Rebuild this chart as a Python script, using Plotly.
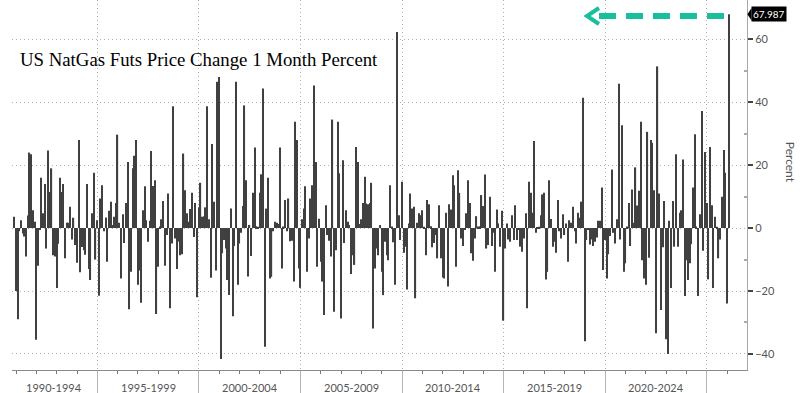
import pandas as pd
import plotly.graph_objects as go

# Monthly % change (month-end dates)
v1990 = [3.6, -20.0]
v1991 = [-29, -1, 2.5, -1.7, -2.7, -9, 4, 24, 23.5, 5.7, 2, -35.5]
v1992 = [-12, -0.6, 16, 4.7, 14, -6.5, 24.7, 11.5, 19, -8.6, -9, -19]
v1993 = [-5, 16, 11.5, 14, -9.6, 1.7, 1.7, 6.8, -3.6, 3.3, -5.4, -11]
v1994 = [28, -14, -6, -7, -8.5, 14, -13, -16.5, 4.7, 17.6, -10, 2.5]
v1995 = [-21.5, 9.4, 13.6, -1, 3.4, -10.7, 5.5, 8.4, 1, 3.6, 8, 29.7]
v1996 = [1.7, -16, 4.4, -4.7, 8, 21, -25.8, -13.9, 19, 23, 28, -18]
v1997 = [-13.5, -23.7, 5.7, 13.3, 2.5, -4.3, 2.3, 24.5, 13.4, 15.2, -27.3, -12.3]
v1998 = [0.5, 2.8, 8.6, -12, -2.2, 11, -25.5, -4.9, 38.7, -3.3, -13, -4.3]
v1999 = [-8.6, -8.3, 23.7, 12, 4.7, 2, 6.1, 11.2, -2.8, 8, -22, 6.6]
v2000 = [14.4, 3.6, 3.8, 6.6, 38.7, 2.8, -15.8, 26.7, 8.4, -13.5, 46.5, 48]
v2001 = [-41.6, -8, -3.8, -6.5, -16.5, -21.3, 6.2, -28, -5.7, 46.5, -18, -4.9]
v2002 = [-1.5, 7, 39, 15.2, -15.4, 1, -8.9, 11.2, 25.6, 0.6, 0.4, 11.2]
v2003 = [17.1, 44.4, -37.7, 6.2, 16, -16, -15.5, -1, 2, 1.7, 1.3, 25.6]
v2004 = [-12.8, 0.5, 8.9, -1, 9.4, -4.2, -4, -17, 33.8, 28, -12.8, -19]
v2005 = [2.8, 6.2, 13.3, -13.9, -3.3, 9.4, 13.6, 45.3, 21, -12.3, 3, -10.7]
v2006 = [-17, -27.6, 7.3, -2.2, -4, -9, 34.5, -26.6, -7, 33.8, 17.4, -28.7]
v2007 = [21.6, -4.7, 5.7, 2, 1, -14.6, -8.6, -11.7, 25.8, 21, 1.3, 2.8]
v2008 = [8, 16.3, 7.8, 7.6, 8, 14.4, -31.9, -12.8, -6.5, -8.6, 1, -13.9]
v2009 = [-21.3, -4.3, -8.6, -10.2, 13.6, 0.5, -4.5, -18, 62.3, 4.1, -3.8, 14.7]
v2010 = [-7.8, -5.9, -19.5, 1.5, 11, 6.2, 6.8, -22.3, 1.7, 4.7, 4.1, 5.7]
v2011 = [0.4, -8.6, 8.9, 7.6, 0.6, -6.1, -4.7, -2.2, -9.6, 7.3, -9.6, -15.7]
v2012 = [-16, 4.9, -18.6, 7.6, 5.9, 16.8, 13.6, -12.3, 18.4, 11.2, -3.3, -5.7]
v2013 = [-0.5, 4.7, 15.2, 8, -8, -10.4, -3.3, 3.8, 0.5, 0.6, 10.5, 7]
v2014 = [17, -6.5, -5.4, 10, -5.7, -1.5, -13.9, 5.9, 1.5, -5.9, 5.5, -29.4]
v2015 = [-6.5, 1.5, -3.6, -4.3, 4.1, -3.8, 7.3, -3.8, -0.5, -5.9, -7.5, -3.3]
v2016 = [4.7, -25.5, 14.7, 11.2, 4.9, 27.7, -1.5, 0.3, 0.4, 4.1, 10.7, 11.2]
v2017 = [-16.3, -13.9, 15.2, 2.9, -5.9, -4.3, -7.8, 8.9, -1, -3.3, 4.4, -2.2]
v2018 = [1.5, -10.7, 2.5, 1.7, 6.8, -1, -4.9, 4.9, 3.3, 8.4, 41.4, -36]
v2019 = [-3.8, -0.5, -5.2, -3.6, -5.7, -4.3, -3, 2.3, 2.3, 12.9, -13.3, -3.8]
v2020 = [-16, -8.3, -2.5, 18.6, -1.5, -4.9, 2.8, 45.9, -3.6, 32.7, -13.9, -11.2]
v2021 = [0.5, 8, -5.7, 12.3, 1.7, 19.3, 7.2, 11.9, 33.8, -10.2, -16, -18]
v2022 = [30.6, -9.4, 28, 27.1, 12, -33.4, 51.4, 11, -26, -6.1, 8.6, -35.3]
v2023 = [-40, 2.3, -19, 8.6, -5.9, 23.5, -5.9, 4.9, 5.7, 21.8, -21.6, -10.2]
v2024 = [-16.5, -11.2, -5.1, 12.9, 29.8, 0.5, -21.6, 4.4, 37.2, -7.2, 24.2, 8]
v2025 = [-16.3, 25.8, 7.3, -19, 3.6, 0.4, -9.6, -3.6, 10, 24.8, 17.6, -24]
v2026 = [67.987]

period_labels = ["1990-1994", "1995-1999", "2000-2004", "2005-2009",
                 "2010-2014", "2015-2019", "2020-2024"]
period_label_pos = ["1992-11-15", "1997-07-01", "2002-07-01", "2007-07-01",
                    "2012-07-01", "2017-07-01", "2022-07-01"]
period_bounds = ["1995-01-01", "2000-01-01", "2005-01-01", "2010-01-01",
                 "2015-01-01", "2020-01-01", "2025-01-01"]
y_ticks = [-40, -20, 0, 20, 40, 60]
last_value = v2026[-1]

values = (v1990 + v1991 + v1992 + v1993 + v1994 + v1995 + v1996 + v1997 + v1998
          + v1999 + v2000 + v2001 + v2002 + v2003 + v2004 + v2005 + v2006 + v2007
          + v2008 + v2009 + v2010 + v2011 + v2012 + v2013 + v2014 + v2015 + v2016
          + v2017 + v2018 + v2019 + v2020 + v2021 + v2022 + v2023 + v2024 + v2025
          + v2026)
dates = pd.date_range(start="1990-11-30", periods=len(values), freq=pd.offsets.MonthEnd())

DAY = 86400000
fig = go.Figure(go.Bar(
    x=dates, y=values, width=[21 * DAY] * len(values),
    marker=dict(color="#404040", line=dict(width=0)),
))

TEAL = "#17bf9f"
GRID_DASH = "1px,3px"
fig.update_layout(
    width=800, height=393,
    margin=dict(l=12, r=53, t=0, b=23),
    paper_bgcolor="white", plot_bgcolor="white",
    showlegend=False,
    xaxis=dict(
        type="date", range=["1990-10-20", "2026-12-25"],
        tickmode="array", tickvals=period_bounds, showticklabels=False,
        ticks="outside", ticklen=23, tickcolor="#b5b5b5", tickwidth=1,
        showgrid=True, griddash=GRID_DASH, gridcolor="#b0b0b0", gridwidth=1,
        showline=True, linecolor="#8a8a8a", linewidth=1, zeroline=False,
        minor=dict(tickmode="linear", tick0="1991-01-01", dtick="M12",
                   ticks="outside", ticklen=3, tickcolor="#777", showgrid=False),
    ),
    yaxis=dict(
        side="right", range=[-45.1, 72.5],
        tickmode="array", tickvals=y_ticks,
        ticks="outside", ticklen=5, tickwidth=2, tickcolor="#444",
        tickfont=dict(family="Lato", size=11, color="#555"),
        showgrid=True, griddash=GRID_DASH, gridcolor="#b0b0b0", gridwidth=1,
        zeroline=False, showline=True, linecolor="#a8a8a8", linewidth=1,
        minor=dict(tickmode="array", tickvals=[-30, -10, 10, 30, 50],
                   ticks="inside", ticklen=3, tickcolor="#aaa", showgrid=False),
    ),
)

annotations = [
    dict(text="US NatGas Futs Price Change 1 Month Percent", xref="paper", yref="paper",
         x=0.0075, y=0.838, xanchor="left", yanchor="middle", showarrow=False,
         font=dict(family="Liberation Serif", size=18.8, color="black")),
    dict(text="Percent", xref="paper", yref="paper", x=1.0585, y=0.56,
         textangle=90, showarrow=False, xanchor="center", yanchor="middle",
         font=dict(family="Lato", size=12, color="#555")),
    dict(text=f"{last_value:.3f}", xref="paper", yref="y", x=1.005, y=last_value,
         xanchor="left", yanchor="middle", showarrow=False, bgcolor="black",
         borderpad=1, font=dict(family="Lato", size=10, color="white")),
]
for lab, pos in zip(period_labels, period_label_pos):
    annotations.append(dict(text=lab, x=pos, xref="x", yref="paper", y=-0.047,
                            xanchor="center", yanchor="middle", showarrow=False,
                            font=dict(family="Lato", size=11, color="#555")))
fig.update_layout(annotations=annotations)

tip_y0 = last_value - 2.0
tip_y1 = last_value + 2.0
shapes = [
    dict(type="line", xref="paper", yref="paper", x0=0.9687, x1=0.790,
         y0=0.9568, y1=0.9568, line=dict(color=TEAL, width=6, dash="17px,10px")),
    dict(type="path", xref="paper", yref="paper",
         path="M 0.7986,0.9784 L 0.7823,0.9568 L 0.7986,0.9351",
         line=dict(color=TEAL, width=4)),
    # pointer of the last-value tag
    dict(type="path", xref="paper", yref="y",
         path=f"M 1.0005,{last_value} L 1.0062,{tip_y1} L 1.0062,{tip_y0} Z",
         fillcolor="black", line=dict(color="black", width=0)),
]
fig.update_layout(shapes=shapes)

fig.write_html("out.html", config={"displayModeBar": False},
               post_script="document.body.style.margin='0';document.body.style.padding='0';")
